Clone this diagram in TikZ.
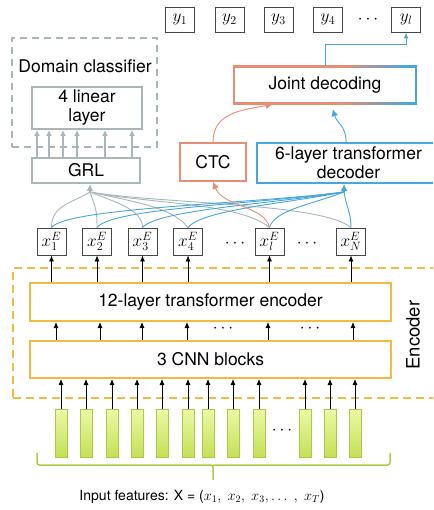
\documentclass[tikz,border=0pt]{standalone}
\usepackage{fontspec}
\setmainfont{TeX Gyre Heros}
\usetikzlibrary{arrows.meta,calc}
\definecolor{cgray}{RGB}{168,182,186}
\definecolor{corange}{RGB}{232,140,115}
\definecolor{cblue}{RGB}{72,166,222}
\definecolor{cyel}{RGB}{242,186,66}
\definecolor{cgreen}{RGB}{172,202,72}
\definecolor{bartop}{RGB}{236,249,165}
\definecolor{barbot}{RGB}{196,224,86}
\definecolor{cdark}{RGB}{70,70,70}
\pgfdeclarehorizontalshading{jointsh}{100bp}{color(0bp)=(corange); color(55bp)=(corange); color(72bp)=(cblue); color(100bp)=(cblue)}
\begin{document}
\begin{tikzpicture}[x=1pt,y=-1pt,
  every node/.style={font=\fontsize{17.5}{19}\selectfont, inner sep=0pt},
  smallbox/.style={draw=cdark, line width=0.9pt, minimum width=29pt, font=\fontsize{16.5}{18}\selectfont},
  graybox/.style={draw=cgray, line width=2pt, align=center},
  graydash/.style={draw=cgray, line width=2pt, dash pattern=on 7pt off 5pt},
  yeldash/.style={draw=cyel, line width=2pt, dash pattern=on 8pt off 5pt},
  yelbox/.style={draw=cyel, line width=2pt, minimum width=361pt},
  bar/.style={draw=cgreen, line width=0.8pt, top color=bartop, bottom color=barbot, minimum width=12pt, minimum height=48pt},
  karr/.style={-{Latex[length=6pt,width=5pt]}, line width=0.8pt, black},
  garr/.style={-{Latex[length=7pt,width=7pt]}, line width=1.6pt, cgray},
  gline/.style={line width=0.9pt, cgray},
  bline/.style={line width=0.9pt, cblue},
  barr/.style={-{Latex[length=7pt,width=7pt]}, line width=0.9pt, cblue},
  oarr/.style={-{Latex[length=7pt,width=7pt]}, line width=0.9pt, corange},
  dots/.style={font=\fontsize{17}{17}\selectfont\bfseries}
]
\useasboundingbox (0,0) rectangle (433,510);
\clip (0,0) rectangle (433,510);

% output tokens
\node[smallbox, minimum height=25pt] (y1) at (180,19.5) {$y_1$};
\node[smallbox, minimum height=25pt] (y2) at (229.5,19.5) {$y_2$};
\node[smallbox, minimum height=25pt] (y3) at (278.5,19.5) {$y_3$};
\node[smallbox, minimum height=25pt] (y4) at (328,19.5) {$y_4$};
\node[dots] (ydots) at (368,20) {$\cdots$};
\node[smallbox, minimum height=25pt] (yl) at (406,19.5) {$y_l$};

% domain classifier
\node[graydash, minimum width=145pt, minimum height=109pt] (dc) at (84.5,92.5) {};
\node (dclabel) at (85,66) {Domain classifier};
\node[graybox, minimum width=110pt, minimum height=42pt] (lin4) at (87,108) {4 linear\\layer};
\node[graybox, minimum width=108pt, minimum height=25pt] (grl) at (86,170.5) {GRL};
\foreach \x in {38,50,64,78,106,133}
  \draw[-{Latex[length=6pt,width=6pt]}, line width=1.2pt, cgray] ($(grl.north west)+(\x-32,0)$) -- ($(lin4.south west)+(\x-32,0)$);

% CTC, decoder, joint decoding
\node[draw=corange, line width=1.8pt, minimum width=66pt, minimum height=38pt] (ctc) at (213,162) {CTC};
\node[draw=cblue, line width=1.8pt, minimum width=183pt, minimum height=40pt, align=center] (dec) at (348.5,163) {6-layer transformer\\decoder};
\node[minimum width=184pt, minimum height=38pt] (joint) at (325,85) {Joint decoding};
\shade[shading=jointsh] (joint.north west) rectangle ($(joint.north east)+(0,1.8)$);
\shade[shading=jointsh] ($(joint.south west)+(0,-1.8)$) rectangle (joint.south east);
\fill[corange] (joint.north west) rectangle ($(joint.south west)+(1.8,0)$);
\fill[cblue] ($(joint.north east)+(-1.8,0)$) rectangle (joint.south east);

\draw[-{Latex[length=6pt,width=5pt]}, line width=1pt, cblue] (joint.north) -- ++(0,-21) -| (yl.south);
\draw[oarr] (ctc.north) .. controls +(0,-30) and +(-30,6) .. ($(joint.south west)+(40,0)$);
\draw[barr] ($(dec.north west)+(90,0)$) .. controls +(0,-16) and +(4,14) .. ($(joint.south west)+(100,5)$);

% encoder outputs
\node[smallbox, minimum height=27pt] (x1) at (51.5,241.5) {$x_1^E$};
\node[smallbox, minimum height=27pt] (x2) at (97,241.5) {$x_2^E$};
\node[smallbox, minimum height=27pt] (x3) at (142.5,241.5) {$x_3^E$};
\node[smallbox, minimum height=27pt] (x4) at (188,241.5) {$x_4^E$};
\node[dots] (xdots1) at (235,244) {$\cdots$};
\node[smallbox, minimum height=27pt] (xl) at (269.5,241.5) {$x_l^E$};
\node[dots] (xdots2) at (307,244) {$\cdots$};
\node[smallbox, minimum height=27pt] (xN) at (351,241.5) {$x_N^E$};

% converging connectors
\coordinate (grltip) at ($(grl.south)+(4,0)$);
\coordinate (grlin) at ($(grltip)+(0,8)$);
\coordinate (dectip) at ($(dec.south west)+(88,0)$);
\coordinate (decin) at ($(dectip)+(0,8)$);

\draw[gline] (x1.north) .. controls +(0,-22) and +(-20,12) .. (grlin);
\draw[gline] (x2.north) .. controls +(0,-20) and +(5,15) .. (grlin);
\draw[gline] (x3.north) .. controls +(0,-18) and +(25,10) .. (grlin);
\draw[gline] (x4.north) .. controls +(-15,-20) and +(45,10) .. (grlin);
\draw[gline] (xl.north) .. controls +(-30,-25) and +(60,12) .. (grlin);
\draw[gline] (xN.north) .. controls +(-30,-25) and +(70,12) .. (grlin);
\draw[garr] (grlin) -- (grltip);

\draw[bline] (x1.north) .. controls +(15,-20) and +(-90,12) .. (decin);
\draw[bline] (x2.north) .. controls +(15,-20) and +(-80,12) .. (decin);
\draw[bline] (x3.north) .. controls +(15,-18) and +(-70,12) .. (decin);
\draw[bline] (x4.north) .. controls +(15,-18) and +(-60,12) .. (decin);
\draw[bline] (xl.north) .. controls +(5,-18) and +(-30,12) .. (decin);
\draw[bline] (xN.north) .. controls +(0,-15) and +(2,15) .. (decin);
\draw[-{Latex[length=7pt,width=7pt]}, line width=1.6pt, cblue] (decin) -- (dectip);

\draw[oarr] (xl.north) .. controls +(-5,-22) and +(10,25) .. (ctc.south);

% encoder
\node[yeldash, minimum width=427pt, minimum height=130pt] (encbox) at (226.5,333) {};
\node[yelbox, minimum height=38pt] (enc12) at (210.5,302) {12-layer transformer encoder};
\node[yelbox, minimum height=37pt] (cnn) at (210.5,359.5) {3 CNN blocks};
\node[rotate=90, font=\fontsize{18.5}{20}\selectfont] (enclabel) at (413,335) {Encoder};

\foreach \n in {x1,x2,x3,x4,xl,xN}
  \draw[karr] (\n.south |- enc12.north) -- (\n.south);
\foreach \x in {57,101,143,188,269,354}
  \draw[karr] ($(cnn.north west)+(\x-30,0)$) -- ($(enc12.south west)+(\x-30,0)$);
\node[dots] (edots1) at (223,329) {$\cdots$};
\node[dots] (edots2) at (310,329) {$\cdots$};

% input features
\foreach \x [count=\i] in {61,86,112,137,162,188,208,233,259,305,330,355} {
  \node[bar] (b\i) at (\x,433) {};
  \draw[karr] (b\i.north) -- (b\i.north |- cnn.south);
}
\node[dots] (bdots) at (282,431) {$\cdots$};

\draw[cgreen, line width=1.5pt, rounded corners=2.5pt] (37,453) |- (213,465) -- (213,480);
\draw[cgreen, line width=1.5pt, rounded corners=2.5pt] (390,453) |- (213,465);
\node[font=\fontsize{14}{16}\selectfont] (inp) at (202,497) {Input features: X = ($x_1,\ x_2,\ x_3, \ldots\ ,\ x_T$)};
\end{tikzpicture}
\end{document}
